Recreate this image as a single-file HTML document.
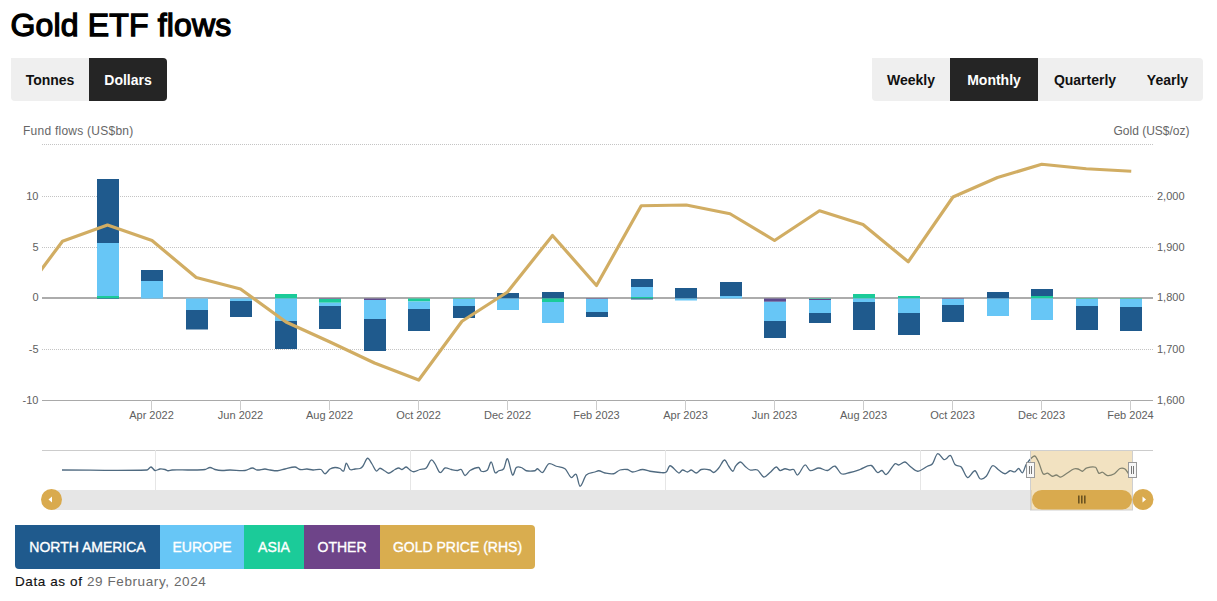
<!DOCTYPE html>
<html><head><meta charset="utf-8">
<style>
html,body{margin:0;padding:0;background:#fff;}
body{width:1217px;height:601px;position:relative;overflow:hidden;font-family:"Liberation Sans",sans-serif;}
.title{position:absolute;left:10.5px;top:6.5px;font-size:32px;font-weight:normal;-webkit-text-stroke:1.3px #000;color:#000;white-space:nowrap;letter-spacing:0.15px;transform:scaleY(1.0);transform-origin:0 0;}
.grp{position:absolute;top:58px;height:43px;display:flex;background:#efefef;border-radius:0 4px 4px 4px;overflow:hidden;}
.grp div{height:43px;line-height:44px;font-size:14px;font-weight:bold;color:#111;text-align:center;box-sizing:border-box;}
.grp div.on{background:#252525;color:#fff;}
.lbl{position:absolute;font-size:12px;color:#666;white-space:nowrap;}
svg{position:absolute;left:0;top:0;}
.ax{font-family:"Liberation Sans",sans-serif;font-size:11px;fill:#606060;}
.legend{position:absolute;left:15px;top:525px;height:44px;display:flex;border-radius:0 4px 4px 4px;overflow:hidden;}
.legend div{height:44px;line-height:44px;font-size:14px;letter-spacing:0px;font-weight:normal;-webkit-text-stroke:0.35px #fff;color:#fff;text-align:center;box-sizing:border-box;white-space:nowrap;}
.foot{position:absolute;left:15px;top:574px;font-size:13.5px;letter-spacing:0.6px;color:#111;white-space:nowrap;-webkit-text-stroke:0.15px #111;}
.foot span{color:#6a6a6a;-webkit-text-stroke:0;}
</style></head><body>
<div class="title">Gold ETF flows</div>
<div class="grp" style="left:11px;width:156px;">
<div style="width:78px">Tonnes</div><div class="on" style="width:78px">Dollars</div>
</div>
<div class="grp" style="left:872px;width:331px;">
<div style="width:78px">Weekly</div><div class="on" style="width:88px">Monthly</div><div style="width:94px">Quarterly</div><div style="width:71px">Yearly</div>
</div>
<div class="lbl" style="left:23px;top:124px;letter-spacing:0.25px;">Fund flows (US$bn)</div>
<div class="lbl" style="left:1113.5px;top:124px;">Gold (US$/oz)</div>
<svg width="1217" height="601" viewBox="0 0 1217 601">
<line x1="42" y1="144.5" x2="1153" y2="144.5" stroke="#c4c4c4" stroke-width="1" stroke-dasharray="1,1"/>
<line x1="42" y1="196.5" x2="1153" y2="196.5" stroke="#c4c4c4" stroke-width="1" stroke-dasharray="1,1"/>
<line x1="42" y1="247.5" x2="1153" y2="247.5" stroke="#c4c4c4" stroke-width="1" stroke-dasharray="1,1"/>
<line x1="42" y1="349.5" x2="1153" y2="349.5" stroke="#c4c4c4" stroke-width="1" stroke-dasharray="1,1"/>
<line x1="42" y1="400.5" x2="1153" y2="400.5" stroke="#a9a9a9" stroke-width="1"/>
<line x1="151.5" y1="400" x2="151.5" y2="410" stroke="#ccc" stroke-width="1"/>
<text x="151.5" y="419" text-anchor="middle" class="ax">Apr 2022</text>
<line x1="240.5" y1="400" x2="240.5" y2="410" stroke="#ccc" stroke-width="1"/>
<text x="240.5" y="419" text-anchor="middle" class="ax">Jun 2022</text>
<line x1="329.5" y1="400" x2="329.5" y2="410" stroke="#ccc" stroke-width="1"/>
<text x="329.5" y="419" text-anchor="middle" class="ax">Aug 2022</text>
<line x1="418.5" y1="400" x2="418.5" y2="410" stroke="#ccc" stroke-width="1"/>
<text x="418.5" y="419" text-anchor="middle" class="ax">Oct 2022</text>
<line x1="507.5" y1="400" x2="507.5" y2="410" stroke="#ccc" stroke-width="1"/>
<text x="507.5" y="419" text-anchor="middle" class="ax">Dec 2022</text>
<line x1="596.5" y1="400" x2="596.5" y2="410" stroke="#ccc" stroke-width="1"/>
<text x="596.5" y="419" text-anchor="middle" class="ax">Feb 2023</text>
<line x1="685.5" y1="400" x2="685.5" y2="410" stroke="#ccc" stroke-width="1"/>
<text x="685.5" y="419" text-anchor="middle" class="ax">Apr 2023</text>
<line x1="774.5" y1="400" x2="774.5" y2="410" stroke="#ccc" stroke-width="1"/>
<text x="774.5" y="419" text-anchor="middle" class="ax">Jun 2023</text>
<line x1="863.5" y1="400" x2="863.5" y2="410" stroke="#ccc" stroke-width="1"/>
<text x="863.5" y="419" text-anchor="middle" class="ax">Aug 2023</text>
<line x1="952.5" y1="400" x2="952.5" y2="410" stroke="#ccc" stroke-width="1"/>
<text x="952.5" y="419" text-anchor="middle" class="ax">Oct 2023</text>
<line x1="1041.5" y1="400" x2="1041.5" y2="410" stroke="#ccc" stroke-width="1"/>
<text x="1041.5" y="419" text-anchor="middle" class="ax">Dec 2023</text>
<line x1="1130.5" y1="400" x2="1130.5" y2="410" stroke="#ccc" stroke-width="1"/>
<text x="1130.5" y="419" text-anchor="middle" class="ax">Feb 2024</text>
<text x="38.5" y="199.5" text-anchor="end" class="ax">10</text>
<text x="38.5" y="250.5" text-anchor="end" class="ax">5</text>
<text x="38.5" y="301" text-anchor="end" class="ax">0</text>
<text x="38.5" y="352.5" text-anchor="end" class="ax">-5</text>
<text x="38.5" y="403.5" text-anchor="end" class="ax">-10</text>
<text x="1157" y="199.5" class="ax">2,000</text>
<text x="1157" y="250.5" class="ax">1,900</text>
<text x="1157" y="301" class="ax">1,800</text>
<text x="1157" y="352.5" class="ax">1,700</text>
<text x="1157" y="403.5" class="ax">1,600</text>
<line x1="42" y1="298" x2="1153" y2="298" stroke="#909090" stroke-width="1.5"/>
<rect x="97" y="179" width="22" height="64" fill="#1f5a8d"/>
<rect x="97" y="243" width="22" height="53" fill="#67c6f6"/>
<rect x="97" y="296" width="22" height="2.5" fill="#1bcb99"/>
<rect x="97" y="298.5" width="22" height="0.5" fill="#1f5a8d"/>
<rect x="141" y="270" width="22" height="11" fill="#1f5a8d"/>
<rect x="141" y="281" width="22" height="17.5" fill="#67c6f6"/>
<rect x="186" y="298.5" width="22" height="11.5" fill="#67c6f6"/>
<rect x="186" y="310" width="22" height="19.5" fill="#1f5a8d"/>
<rect x="230" y="298.5" width="22" height="2.5" fill="#67c6f6"/>
<rect x="230" y="301" width="22" height="16" fill="#1f5a8d"/>
<rect x="275" y="294" width="22" height="4.5" fill="#1bcb99"/>
<rect x="275" y="298.5" width="22" height="22.5" fill="#67c6f6"/>
<rect x="275" y="321" width="22" height="28" fill="#1f5a8d"/>
<rect x="319" y="298.5" width="22" height="0.5" fill="#5f4a8c"/>
<rect x="319" y="299" width="22" height="3.75" fill="#1bcb99"/>
<rect x="319" y="302.75" width="22" height="3.25" fill="#67c6f6"/>
<rect x="319" y="306" width="22" height="23" fill="#1f5a8d"/>
<rect x="364" y="298.5" width="22" height="1.5" fill="#5f4a8c"/>
<rect x="364" y="300" width="22" height="19" fill="#67c6f6"/>
<rect x="364" y="319" width="22" height="32" fill="#1f5a8d"/>
<rect x="408" y="298.5" width="22" height="3" fill="#1bcb99"/>
<rect x="408" y="301.5" width="22" height="7.5" fill="#67c6f6"/>
<rect x="408" y="309" width="22" height="22" fill="#1f5a8d"/>
<rect x="453" y="298.5" width="22" height="0.5" fill="#1bcb99"/>
<rect x="453" y="299" width="22" height="7" fill="#67c6f6"/>
<rect x="453" y="306" width="22" height="12" fill="#1f5a8d"/>
<rect x="497" y="293" width="22" height="5.5" fill="#1f5a8d"/>
<rect x="497" y="298.5" width="22" height="11.5" fill="#67c6f6"/>
<rect x="542" y="292" width="22" height="6.5" fill="#1f5a8d"/>
<rect x="542" y="298.5" width="22" height="3.5" fill="#1bcb99"/>
<rect x="542" y="302" width="22" height="21" fill="#67c6f6"/>
<rect x="586" y="298.5" width="22" height="0.5" fill="#5f4a8c"/>
<rect x="586" y="299" width="22" height="13" fill="#67c6f6"/>
<rect x="586" y="312" width="22" height="5" fill="#1f5a8d"/>
<rect x="631" y="279" width="22" height="8" fill="#1f5a8d"/>
<rect x="631" y="287" width="22" height="10" fill="#67c6f6"/>
<rect x="631" y="297" width="22" height="1.5" fill="#1bcb99"/>
<rect x="631" y="298.5" width="22" height="1" fill="#1f5a8d"/>
<rect x="675" y="288" width="22" height="10.5" fill="#1f5a8d"/>
<rect x="675" y="298.5" width="22" height="2" fill="#67c6f6"/>
<rect x="720" y="282" width="22" height="14" fill="#1f5a8d"/>
<rect x="720" y="296" width="22" height="2.5" fill="#67c6f6"/>
<rect x="764" y="298.5" width="22" height="3.3" fill="#5f4a8c"/>
<rect x="764" y="301.8" width="22" height="19.2" fill="#67c6f6"/>
<rect x="764" y="321" width="22" height="17" fill="#1f5a8d"/>
<rect x="809" y="298.5" width="22" height="0.5" fill="#1bcb99"/>
<rect x="809" y="299" width="22" height="1" fill="#5f4a8c"/>
<rect x="809" y="300" width="22" height="13" fill="#67c6f6"/>
<rect x="809" y="313" width="22" height="10" fill="#1f5a8d"/>
<rect x="853" y="294" width="22" height="4.5" fill="#1bcb99"/>
<rect x="853" y="298.5" width="22" height="3.5" fill="#67c6f6"/>
<rect x="853" y="302" width="22" height="28" fill="#1f5a8d"/>
<rect x="898" y="296" width="22" height="2.5" fill="#1bcb99"/>
<rect x="898" y="298.5" width="22" height="14.5" fill="#67c6f6"/>
<rect x="898" y="313" width="22" height="22" fill="#1f5a8d"/>
<rect x="942" y="298.5" width="22" height="0.5" fill="#5f4a8c"/>
<rect x="942" y="299" width="22" height="6" fill="#67c6f6"/>
<rect x="942" y="305" width="22" height="17" fill="#1f5a8d"/>
<rect x="987" y="292" width="22" height="6.5" fill="#1f5a8d"/>
<rect x="987" y="298.5" width="22" height="17.5" fill="#67c6f6"/>
<rect x="1031" y="289" width="22" height="7" fill="#1f5a8d"/>
<rect x="1031" y="296" width="22" height="2.5" fill="#1bcb99"/>
<rect x="1031" y="298.5" width="22" height="21.5" fill="#67c6f6"/>
<rect x="1076" y="298.5" width="22" height="0.5" fill="#1bcb99"/>
<rect x="1076" y="299" width="22" height="7" fill="#67c6f6"/>
<rect x="1076" y="306" width="22" height="24" fill="#1f5a8d"/>
<rect x="1120" y="298.5" width="22" height="0.5" fill="#1bcb99"/>
<rect x="1120" y="299" width="22" height="8" fill="#67c6f6"/>
<rect x="1120" y="307" width="22" height="24" fill="#1f5a8d"/>
<clipPath id="pc"><rect x="42" y="140" width="1111" height="262"/></clipPath>
<polyline clip-path="url(#pc)" points="19,299.5 62.5,241.25 107.5,225 152,240.5 196.25,277.5 240.5,289 286,322 330,342 374.5,363 418.75,380 462,321.25 507.5,292 552.5,235.5 596.5,285.5 641.25,205.75 686.25,205 730,213.75 774.5,240.5 819.5,210.75 863,224.5 908.25,261.75 953,197 997.5,177.5 1041.75,164.25 1086.25,168.75 1131.25,171.25" fill="none" stroke="#d1ad63" stroke-width="3.2" stroke-linejoin="round"/>
<line x1="42" y1="450.5" x2="1153" y2="450.5" stroke="#ccc" stroke-width="1"/>
<line x1="155.5" y1="450" x2="155.5" y2="490" stroke="#e6e6e6" stroke-width="1"/>
<line x1="410.5" y1="450" x2="410.5" y2="490" stroke="#e6e6e6" stroke-width="1"/>
<line x1="665.5" y1="450" x2="665.5" y2="490" stroke="#e6e6e6" stroke-width="1"/>
<line x1="920.5" y1="450" x2="920.5" y2="490" stroke="#e6e6e6" stroke-width="1"/>
<rect x="52" y="490" width="980" height="20" fill="#e6e6e6"/>
<path d="M62,470 C90.33,470.00 118.67,470.96 147,470 C148.33,469.96 149.67,466.92 151,467 C152.33,467.08 153.67,470.20 155,470.5 C156.67,470.87 158.33,469.17 160,469 C161.67,468.83 163.33,469.14 165,469.5 C166.00,469.72 167.00,470.68 168,470.75 C169.33,470.85 170.67,470.05 172,470 C178.00,469.80 184.00,470.09 190,470 C195.00,469.92 200.00,470.12 205,469.5 C206.67,469.29 208.33,467.50 210,467.5 C211.67,467.50 213.33,469.08 215,469.5 C217.33,470.08 219.67,470.42 222,470.5 C224.67,470.59 227.33,470.00 230,470 C235.00,470.00 240.00,470.94 245,470.5 C247.50,470.28 250.00,468.10 252.5,468 C254.00,467.94 255.50,469.88 257,470 C259.67,470.21 262.33,469.00 265,469 C266.67,469.00 268.33,469.77 270,470 C272.50,470.35 275.00,470.92 277.5,470.75 C280.00,470.58 282.50,469.54 285,469 C288.33,468.29 291.67,466.89 295,467 C296.67,467.06 298.33,469.22 300,469.5 C302.33,469.89 304.67,468.91 307,469 C309.00,469.08 311.00,469.93 313,470 C315.67,470.10 318.33,468.67 321,469.5 C322.33,469.92 323.67,473.82 325,473.75 C326.67,473.66 328.33,470.04 330,469 C331.67,467.96 333.33,467.58 335,467.5 C336.67,467.42 338.33,467.83 340,468.5 C341.25,469.00 342.50,472.05 343.75,471 C344.58,470.30 345.42,463.45 346.25,463.25 C347.50,462.95 348.75,468.68 350,469.5 C351.67,470.60 353.33,469.17 355,469 C356.67,468.83 358.33,469.12 360,468.5 C361.00,468.12 362.00,467.37 363,466 C364.50,463.95 366.00,458.58 367.5,458.25 C369.00,457.92 370.50,461.81 372,464 C373.42,466.06 374.83,470.25 376.25,471 C377.50,471.66 378.75,468.25 380,468.25 C381.67,468.25 383.33,470.05 385,471 C386.25,471.71 387.50,473.44 388.75,473.25 C390.83,472.94 392.92,470.59 395,469.5 C396.25,468.84 397.50,468.00 398.75,468 C399.83,468.00 400.92,469.64 402,469.5 C403.42,469.31 404.83,466.91 406.25,467 C407.50,467.08 408.75,469.21 410,470 C411.25,470.79 412.50,471.81 413.75,471.75 C415.83,471.65 417.92,470.12 420,469.5 C422.08,468.88 424.17,469.76 426.25,468 C427.92,466.59 429.58,460.81 431.25,460 C432.50,459.39 433.75,461.96 435,463.75 C436.67,466.13 438.33,471.79 440,472.5 C441.67,473.21 443.33,468.44 445,468 C447.08,467.44 449.17,469.08 451.25,469.5 C453.33,469.92 455.42,470.50 457.5,470.5 C458.75,470.50 460.00,468.67 461.25,469.5 C462.50,470.33 463.75,475.36 465,475.5 C466.67,475.69 468.33,471.47 470,470.5 C472.92,468.80 475.83,467.31 478.75,467.5 C479.58,467.56 480.42,471.01 481.25,471.25 C483.33,471.85 485.42,471.93 487.5,470 C488.75,468.84 490.00,461.58 491.25,462 C492.50,462.42 493.75,471.04 495,472.5 C496.25,473.96 497.50,471.29 498.75,470.75 C500.42,470.04 502.08,471.04 503.75,468.75 C505.00,467.04 506.25,457.86 507.5,458.75 C509.17,459.94 510.83,473.33 512.5,475 C513.75,476.25 515.00,468.57 516.25,467.5 C517.92,466.07 519.58,466.96 521.25,467.5 C522.92,468.04 524.58,470.36 526.25,470.75 C529.17,471.44 532.08,471.27 535,470.75 C535.83,470.60 536.67,468.56 537.5,468.75 C539.17,469.14 540.83,473.24 542.5,472.5 C544.58,471.57 546.67,464.70 548.75,463.75 C551.25,462.61 553.75,465.48 556.25,466.25 C559.17,467.15 562.08,466.56 565,468.75 C567.08,470.31 569.17,476.44 571.25,477.5 C572.92,478.35 574.58,472.83 576.25,474.5 C577.50,475.75 578.75,486.19 580,486.25 C582.08,486.35 584.17,476.98 586.25,475 C589.17,472.23 592.08,472.99 595,472 C596.25,471.57 597.50,470.62 598.75,470.75 C600.83,470.96 602.92,472.58 605,473 C607.92,473.58 610.83,474.33 613.75,473.75 C615.83,473.33 617.92,470.64 620,470 C622.50,469.23 625.00,469.10 627.5,469.5 C629.17,469.77 630.83,472.00 632.5,472 C635.83,472.00 639.17,469.64 642.5,469.5 C645.00,469.39 647.50,470.82 650,471.25 C653.33,471.82 656.67,472.35 660,472.5 C662.08,472.60 664.17,473.41 666.25,472 C667.50,471.16 668.75,465.65 670,465.75 C672.92,465.98 675.83,472.01 678.75,473 C680.00,473.43 681.25,470.14 682.5,470 C684.17,469.81 685.83,472.00 687.5,472 C688.75,472.00 690.00,469.86 691.25,470 C692.92,470.19 694.58,473.08 696.25,473 C697.92,472.92 699.58,469.86 701.25,469.5 C704.17,468.86 707.08,469.30 710,470 C711.25,470.30 712.50,472.79 713.75,472.5 C715.42,472.12 717.08,469.94 718.75,468 C720.67,465.77 722.58,460.34 724.5,460 C725.92,459.75 727.33,464.38 728.75,466.25 C730.17,468.12 731.58,471.25 733,471.25 C733.83,471.25 734.67,467.28 735.5,466.25 C737.17,464.19 738.83,462.00 740.5,462 C742.00,462.00 743.50,464.99 745,466.25 C746.67,467.65 748.33,469.50 750,470 C752.50,470.75 755.00,468.73 757.5,470 C759.58,471.06 761.67,476.58 763.75,477 C765.83,477.42 767.92,474.17 770,472.5 C772.08,470.83 774.17,467.42 776.25,467 C777.50,466.75 778.75,470.25 780,470.5 C781.67,470.83 783.33,468.83 785,468.75 C786.67,468.67 788.33,469.86 790,470 C791.25,470.11 792.50,468.67 793.75,469.5 C795.00,470.33 796.25,475.50 797.5,475 C800.00,474.00 802.50,465.90 805,465 C806.67,464.40 808.33,470.14 810,470.5 C812.92,471.14 815.83,468.00 818.75,468 C821.67,468.00 824.58,470.81 827.5,470.5 C830.00,470.23 832.50,465.66 835,466.25 C837.08,466.74 839.17,472.88 841.25,473.75 C844.17,474.97 847.08,473.16 850,472.5 C853.33,471.74 856.67,470.60 860,469.5 C863.75,468.26 867.50,464.86 871.25,465.5 C873.33,465.86 875.42,471.53 877.5,472.5 C879.00,473.20 880.50,470.16 882,470.5 C883.42,470.82 884.83,475.24 886.25,474.5 C889.17,472.99 892.08,465.97 895,463.75 C896.25,462.80 897.50,465.22 898.75,465 C900.83,464.64 902.92,461.77 905,462 C906.67,462.19 908.33,465.02 910,466.25 C912.50,468.10 915.00,471.25 917.5,471.25 C920.83,471.25 924.17,467.92 927.5,466.25 C929.17,465.42 930.83,465.83 932.5,463.75 C934.17,461.67 935.83,454.38 937.5,453.75 C939.58,452.96 941.67,458.31 943.75,459.5 C944.58,459.98 945.42,459.24 946.25,458.75 C947.67,457.91 949.08,454.57 950.5,455.5 C952.00,456.49 953.50,462.90 955,464.5 C957.08,466.73 959.17,464.83 961.25,467 C963.33,469.17 965.42,476.93 967.5,477.5 C970.00,478.18 972.50,470.50 975,470.75 C976.67,470.92 978.33,477.94 980,478.75 C982.08,479.77 984.17,478.42 986.25,476.25 C988.33,474.08 990.42,466.79 992.5,465.75 C994.58,464.71 996.67,468.67 998.75,470 C1000.83,471.33 1002.92,473.61 1005,473.75 C1006.67,473.86 1008.33,471.06 1010,470.75 C1011.67,470.44 1013.33,472.33 1015,471.9 C1016.25,471.58 1017.50,468.36 1018.75,468.5 C1020.00,468.64 1021.25,473.43 1022.5,472.75 C1023.75,472.07 1025.00,466.14 1026.25,464.4 C1029.00,460.56 1031.75,456.42 1034.5,456 C1035.92,455.78 1037.33,459.58 1038.75,462.5 C1040.20,465.49 1041.65,471.99 1043.1,473.75 C1044.57,475.53 1046.03,472.71 1047.5,473.1 C1049.17,473.54 1050.83,475.89 1052.5,476.25 C1053.75,476.52 1055.00,474.87 1056.25,475 C1057.70,475.15 1059.15,477.28 1060.6,477.1 C1062.48,476.86 1064.37,474.91 1066.25,473.75 C1068.75,472.21 1071.25,470.00 1073.75,469 C1075.20,468.42 1076.65,468.63 1078.1,469 C1079.57,469.38 1081.03,471.41 1082.5,471.25 C1083.75,471.11 1085.00,468.48 1086.25,468.1 C1089.37,467.15 1092.48,466.00 1095.6,467.25 C1096.65,467.67 1097.70,472.34 1098.75,473.1 C1100.00,474.01 1101.25,471.89 1102.5,472.25 C1104.17,472.73 1105.83,475.39 1107.5,475.6 C1109.80,475.89 1112.10,475.06 1114.4,473.75 C1116.27,472.69 1118.13,469.34 1120,468.5 C1121.67,467.75 1123.33,467.97 1125,469 C1126.17,469.72 1127.33,472.17 1128.5,473.75" fill="none" stroke="#4f6a80" stroke-width="1.3" stroke-linejoin="round"/>
<rect x="1030.5" y="450.5" width="102" height="59.5" fill="rgba(217,172,78,0.35)" stroke="#cfcfcf" stroke-width="1"/>
<rect x="1032" y="490" width="100" height="19.5" rx="9.75" fill="#d9aa4e"/>
<rect x="1078" y="495.5" width="1.6" height="8" fill="#6b5320"/>
<rect x="1081" y="495.5" width="1.6" height="8" fill="#6b5320"/>
<rect x="1084" y="495.5" width="1.6" height="8" fill="#6b5320"/>
<rect x="1026.5" y="462.5" width="8" height="15" fill="#f7f7f7" stroke="#999" stroke-width="1"/>
<line x1="1029.5" y1="466" x2="1029.5" y2="474" stroke="#777" stroke-width="1"/>
<line x1="1031.5" y1="466" x2="1031.5" y2="474" stroke="#777" stroke-width="1"/>
<rect x="1128.5" y="462.5" width="8" height="15" fill="#f7f7f7" stroke="#999" stroke-width="1"/>
<line x1="1131.5" y1="466" x2="1131.5" y2="474" stroke="#777" stroke-width="1"/>
<line x1="1133.5" y1="466" x2="1133.5" y2="474" stroke="#777" stroke-width="1"/>
<circle cx="51.5" cy="499.5" r="10.5" fill="#d9aa4e"/>
<path d="M48.5 499.5 L52 496.5 L52 502.5 Z" fill="#fff"/>
<circle cx="1143" cy="499.5" r="10.5" fill="#d9aa4e"/>
<path d="M1146 499.5 L1142.5 496.5 L1142.5 502.5 Z" fill="#fff"/>
</svg>
<div class="legend">
<div style="width:145px;background:#1f5a8d">NORTH AMERICA</div><div style="width:84px;background:#67c6f6">EUROPE</div><div style="width:60px;background:#1bcb99">ASIA</div><div style="width:76px;background:#6e4489">OTHER</div><div style="width:155px;background:#d9ad4f">GOLD PRICE (RHS)</div>
</div>
<div class="foot">Data as of <span>29 February, 2024</span></div>
</body></html>
